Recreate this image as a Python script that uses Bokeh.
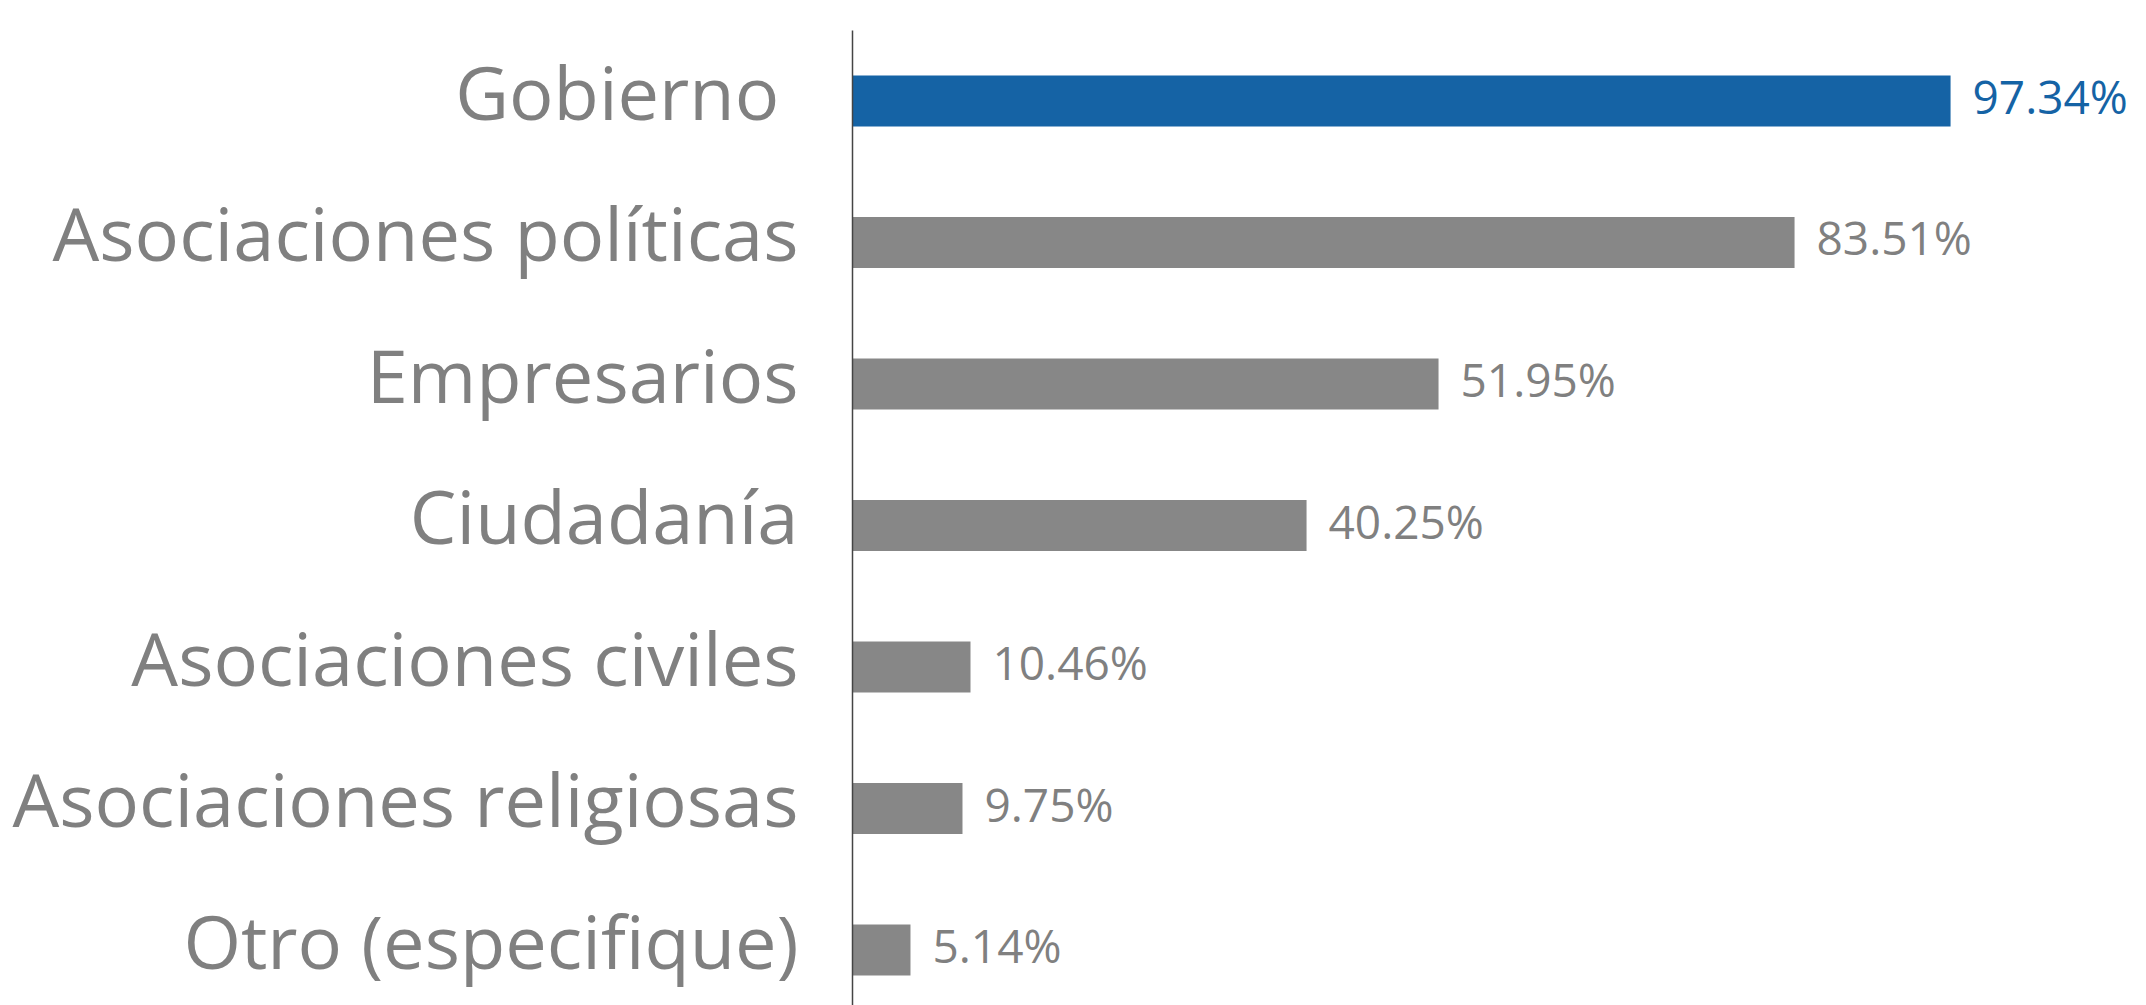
from bokeh.plotting import figure
from bokeh.models import Range1d, FixedTicker, ColumnDataSource, LabelSet
from bokeh.core.properties import value
from bokeh.embed import file_html
from bokeh.resources import INLINE

categories = ["Gobierno\u00a0", "Asociaciones políticas", "Empresarios", "Ciudadanía",
              "Asociaciones civiles", "Asociaciones religiosas", "Otro (especifique)"]
values = [97.34, 83.51, 51.95, 40.25, 10.46, 9.75, 5.14]
labels = ["97.34%", "83.51%", "51.95%", "40.25%", "10.46%", "9.75%", "5.14%"]
bar_colors = ["#1563A5", "#878787", "#878787", "#878787", "#878787", "#878787", "#878787"]
label_colors = ["#1563A5", "#808080", "#808080", "#808080", "#808080", "#808080", "#808080"]

FONT = "Open Sans"
ypos = list(range(len(categories)))

src = ColumnDataSource(dict(y=ypos, v=values, lab=labels, bc=bar_colors, lc=label_colors))

p = figure(width=2138, height=1005, output_backend="svg", toolbar_location=None,
           x_range=Range1d(0, 114.0), y_range=Range1d(6.392, -0.498),
           min_border_left=852, min_border_right=0, min_border_top=30, min_border_bottom=0)
p.outline_line_color = None
p.grid.visible = False
p.xaxis.visible = False

p.hbar(y="y", right="v", left=0, height=0.36, fill_color="bc", line_color=None, source=src)

p.add_layout(LabelSet(x="v", y="y", text="lab", text_color="lc", source=src,
                      x_offset=22, y_offset=5, text_baseline="middle", text_align="left",
                      text_font=value(FONT), text_font_size="46px"))

# tick positions nudged so the label text sits optically centred on each bar
tick_pos = [i - 0.07 for i in ypos]
ya = p.yaxis[0]
ya.ticker = FixedTicker(ticks=tick_pos)
ya.major_label_overrides = {t: c for t, c in zip(tick_pos, categories)}
ya.major_tick_line_color = None
ya.minor_tick_line_color = None
ya.axis_line_color = "#444444"
ya.axis_line_width = 1.5
ya.major_label_text_font = FONT
ya.major_label_text_font_size = "74px"
ya.major_label_text_color = "#808080"
ya.major_label_standoff = 48

open("out.html", "w").write(file_html(p, INLINE))
